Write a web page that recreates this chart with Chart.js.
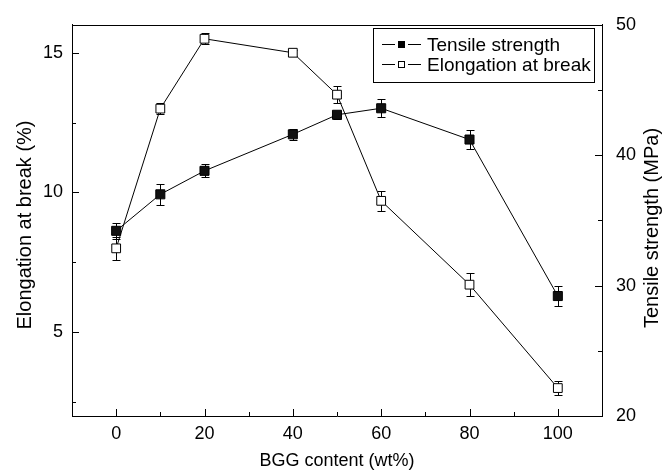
<!DOCTYPE html>
<html>
<head>
<meta charset="utf-8">
<script src="https://cdn.jsdelivr.net/npm/chart.js@4.4.0/dist/chart.umd.min.js"></script>
<style>
  body { margin: 0; background: #fff; }
</style>
</head>
<body>
<canvas id="graf" width="668" height="474"></canvas>
<script>
// BGG-halt (wt%) på x-axeln
const bggContent = [0, 10, 20, 40, 50, 60, 80, 100];

// Draghållfasthet (MPa) + felstaplar, höger axel
const tensileStrength = [34.2, 37.0, 38.8, 41.6, 43.1, 43.6, 41.2, 29.2];
const tensileError = [0.6, 0.8, 0.5, 0.4, 0.3, 0.7, 0.7, 0.8];

// Brottöjning (%) + felstaplar, vänster axel
const elongation = [8.0, 13.0, 15.5, 15.0, 13.5, 9.7, 6.7, 3.0];
const elongationError = [0.4, 0.2, 0.2, 0.1, 0.3, 0.35, 0.4, 0.25];

// Skalstreck
const xTicks = [0, 20, 40, 60, 80, 100];
const xMinor = [10, 30, 50, 70, 90];
const elongTicks = [5, 10, 15];
const elongMinor = [2.5, 7.5, 12.5];
const tensileTicks = [20, 30, 40, 50];
const tensileMinor = [25, 35, 45];

const familj = '"Liberation Sans", Arial, sans-serif';
const typsnitt = { family: familj, size: 18 };

// Felstaplar ritas bakom punkterna
const felstaplar = {
  id: 'felstaplar',
  beforeDatasetsDraw(chart) {
    const c = chart.ctx;
    const xs = chart.scales.x;
    c.save();
    c.strokeStyle = '#000';
    c.lineWidth = 1;
    const rita = (vals, errs, skala) => {
      vals.forEach((v, i) => {
        const px = Math.round(xs.getPixelForValue(bggContent[i])) + 0.5;
        const topp = Math.round(skala.getPixelForValue(v + errs[i])) + 0.5;
        const botten = Math.round(skala.getPixelForValue(v - errs[i])) + 0.5;
        c.beginPath();
        c.moveTo(px, topp); c.lineTo(px, botten);
        c.moveTo(px - 4, topp); c.lineTo(px + 4, topp);
        c.moveTo(px - 4, botten); c.lineTo(px + 4, botten);
        c.stroke();
      });
    };
    rita(tensileStrength, tensileError, chart.scales.yTensile);
    rita(elongation, elongationError, chart.scales.yElong);
    c.restore();
  }
};

// Ram, inåtvända skalstreck och y-titlarna
const ram = {
  id: 'ram',
  beforeDatasetsDraw(chart) {
    const c = chart.ctx;
    const a = chart.chartArea;
    const xs = chart.scales.x, yl = chart.scales.yElong, yr = chart.scales.yTensile;
    c.save();
    c.strokeStyle = '#000';
    c.lineWidth = 1;
    c.beginPath();
    c.moveTo(a.left, Math.round(a.top) + 0.5);
    c.lineTo(a.right, Math.round(a.top) + 0.5);
    const bx = (vals, len) => vals.forEach(v => {
      const p = Math.round(xs.getPixelForValue(v)) + 0.5;
      c.moveTo(p, a.bottom); c.lineTo(p, a.bottom - len);
    });
    const ly = (vals, skala, len) => vals.forEach(v => {
      const p = Math.round(skala.getPixelForValue(v)) + 0.5;
      c.moveTo(a.left, p); c.lineTo(a.left + len, p);
    });
    const ry = (vals, skala, len) => vals.forEach(v => {
      const p = Math.round(skala.getPixelForValue(v)) + 0.5;
      c.moveTo(a.right, p); c.lineTo(a.right - len, p);
    });
    bx(xTicks, 7); bx(xMinor, 4);
    ly(elongTicks, yl, 7); ly(elongMinor, yl, 4);
    ry(tensileTicks, yr, 7); ry(tensileMinor, yr, 4);
    c.stroke();

    // båda y-titlarna läses nerifrån och upp
    c.fillStyle = '#000';
    c.font = '20px ' + familj;
    c.textAlign = 'center';
    c.textBaseline = 'middle';
    const titel = (text, x, y) => {
      c.save();
      c.translate(x, y);
      c.rotate(-Math.PI / 2);
      c.fillText(text, 0, 0);
      c.restore();
    };
    titel('Elongation at break (%)', 25, 225);
    titel('Tensile strength (MPa)', 652, 228);
    c.restore();
  }
};

// Egen legend med linje-markör-linje
const legendRuta = {
  id: 'legendRuta',
  afterDraw(chart) {
    const c = chart.ctx;
    c.save();
    c.strokeStyle = '#000';
    c.lineWidth = 1;
    c.strokeRect(373.5, 28.5, 221, 54);
    c.font = '19px ' + familj;
    c.textBaseline = 'middle';
    chart.data.datasets.forEach((ds, i) => {
      const y = Math.round(44 + i * 20) + 0.5;
      c.beginPath();
      c.moveTo(382, y); c.lineTo(395, y);
      c.moveTo(408, y); c.lineTo(421, y);
      c.stroke();
      if (ds.pointBackgroundColor === '#fff') {
        c.fillStyle = '#fff';
        c.fillRect(398.5, y - 3, 6, 6);
        c.strokeRect(398.5, y - 3, 6, 6);
      } else {
        c.fillStyle = '#000';
        c.fillRect(398, y - 3.5, 7, 7);
      }
      c.fillStyle = '#000';
      c.fillText(ds.label, 427, y + 1);
    });
    c.restore();
  }
};

const ctx = document.getElementById('graf').getContext('2d');

const data = {
  datasets: [
    {
      label: 'Tensile strength',
      data: bggContent.map((x, i) => ({ x: x, y: tensileStrength[i] })),
      yAxisID: 'yTensile',
      borderColor: '#000',
      borderWidth: 1,
      pointStyle: 'rect',
      pointRadius: 6.4,
      pointBackgroundColor: '#111',
      pointBorderColor: '#000',
      pointBorderWidth: 1,
      fill: false,
      tension: 0
    },
    {
      label: 'Elongation at break',
      data: bggContent.map((x, i) => ({ x: x, y: elongation[i] })),
      yAxisID: 'yElong',
      borderColor: '#000',
      borderWidth: 1,
      pointStyle: 'rect',
      pointRadius: 6.2,
      pointBackgroundColor: '#fff',
      pointBorderColor: '#000',
      pointBorderWidth: 1,
      fill: false,
      tension: 0
    }
  ]
};

const config = {
  type: 'line',
  data: data,
  options: {
    responsive: false,
    animation: false,
    layout: { padding: { top: 20, left: 0, right: 0, bottom: 0 } },
    plugins: { legend: { display: false }, tooltip: { enabled: false } },
    scales: {
      x: {
        type: 'linear',
        min: -10,
        max: 110,
        position: 'bottom',
        grid: { display: false, drawTicks: false },
        border: { display: true, color: '#000', width: 1 },
        afterBuildTicks: s => { s.ticks = xTicks.map(v => ({ value: v })); },
        ticks: { color: '#000', font: typsnitt, padding: 7, maxRotation: 0 },
        title: { display: true, text: 'BGG content (wt%)', color: '#000', font: typsnitt, padding: { top: 0, bottom: 2 } },
        afterFit: s => { s.height = 58; }
      },
      yElong: {
        type: 'linear',
        position: 'left',
        min: 2,
        max: 16,
        grid: { display: false, drawTicks: false },
        border: { display: true, color: '#000', width: 1 },
        afterBuildTicks: s => { s.ticks = elongTicks.map(v => ({ value: v })); },
        ticks: { color: '#000', font: typsnitt, padding: 9 },
        afterFit: s => { s.width = 72; }
      },
      yTensile: {
        type: 'linear',
        position: 'right',
        min: 20,
        max: 50,
        grid: { display: false, drawTicks: false },
        border: { display: true, color: '#000', width: 1 },
        afterBuildTicks: s => { s.ticks = tensileTicks.map(v => ({ value: v })); },
        ticks: { color: '#000', font: typsnitt, padding: 14 },
        afterFit: s => { s.width = 66; }
      }
    }
  },
  plugins: [felstaplar, ram, legendRuta]
};

new Chart(ctx, config);
</script>
</body>
</html>
